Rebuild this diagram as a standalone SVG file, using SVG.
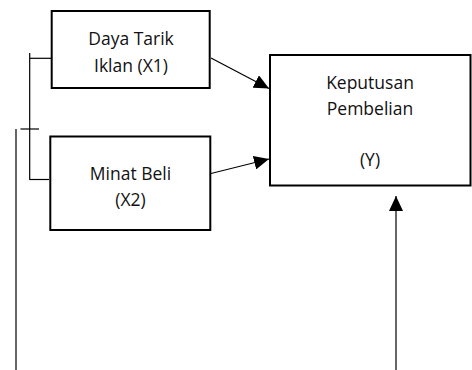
<svg xmlns="http://www.w3.org/2000/svg" width="472" height="370" viewBox="0 0 472 370">
<style>
.box{fill:#fff;stroke:#000;stroke-width:2}
.lbl{font-family:"Open Sans","Liberation Sans",sans-serif;font-size:17.5px;fill:#111;text-anchor:middle}
.ln{stroke:#000;stroke-width:1.2;fill:none}
</style>
<defs>
<marker id="ah" markerUnits="userSpaceOnUse" markerWidth="16" markerHeight="14" refX="15" refY="7" orient="auto">
<path d="M0,0 L15,7 L0,14 z" fill="#000"/>
</marker>
</defs>
<g id="connectors">
<line class="ln" x1="211" y1="58" x2="269" y2="88.5" marker-end="url(#ah)"/>
<line class="ln" x1="211" y1="173.5" x2="269" y2="159" marker-end="url(#ah)"/>
<line class="ln" x1="396" y1="370" x2="396" y2="196" marker-end="url(#ah)"/>
<line class="ln" x1="29.7" y1="53" x2="29.7" y2="180"/>
<line class="ln" x1="30" y1="58.3" x2="51" y2="58.3"/>
<line class="ln" x1="30" y1="179.5" x2="49" y2="179.5"/>
<line class="ln" x1="20.5" y1="129" x2="39" y2="129"/>
<line class="ln" x1="16" y1="129" x2="16" y2="370"/>
</g>
<g id="x1">
<rect class="box" x="51.7" y="11" width="158" height="77"/>
<text class="lbl" x="131" y="45">Daya Tarik</text>
<text class="lbl" x="131" y="71.7">Iklan (X1)</text>
</g>
<g id="x2">
<rect class="box" x="50.3" y="136.5" width="160" height="93.5"/>
<text class="lbl" x="130.5" y="180">Minat Beli</text>
<text class="lbl" x="130.5" y="205.5">(X2)</text>
</g>
<g id="y">
<rect class="box" x="270" y="55" width="200.5" height="130.5"/>
<text class="lbl" x="370" y="89">Keputusan</text>
<text class="lbl" x="370" y="115">Pembelian</text>
<text class="lbl" x="370" y="166">(Y)</text>
</g>
</svg>
